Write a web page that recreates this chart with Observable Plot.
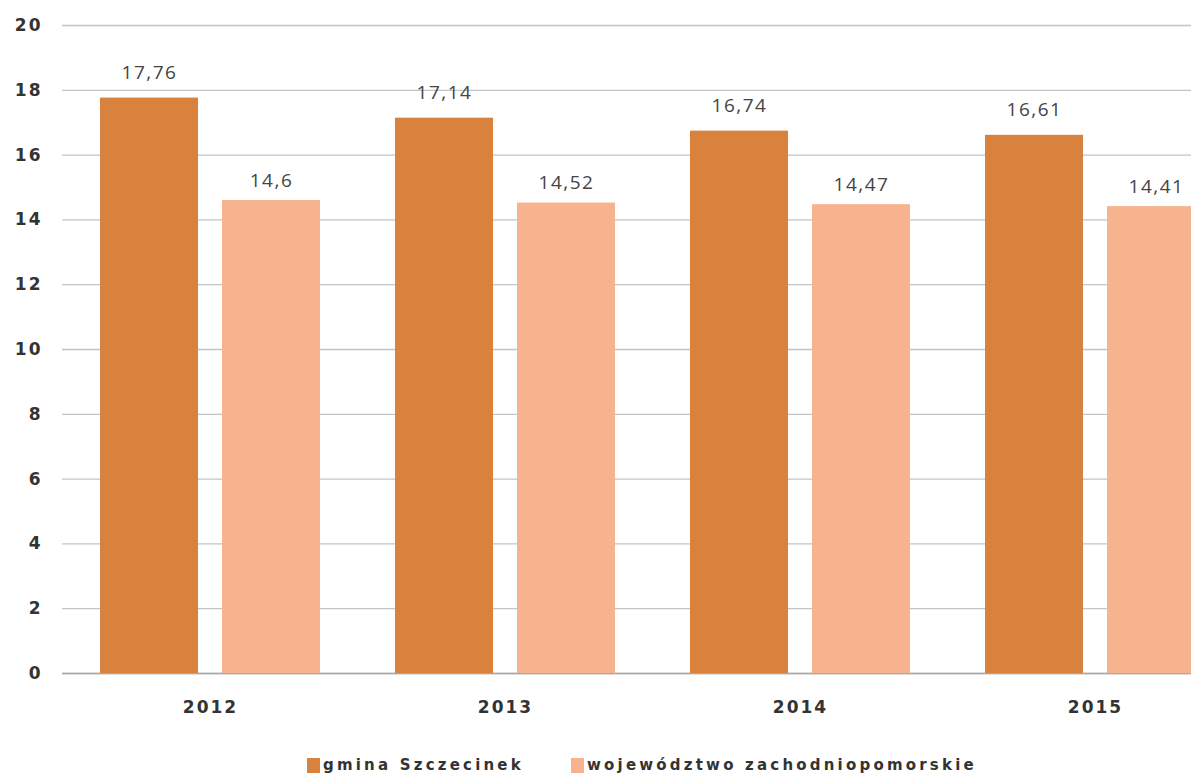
<!DOCTYPE html>
<html>
<head>
<meta charset="utf-8">
<script src="https://cdn.jsdelivr.net/npm/d3@7"></script>
<script src="https://cdn.jsdelivr.net/npm/@observablehq/plot@0.6"></script>
<style>
  html, body { margin: 0; padding: 0; background: #fff; }
  #wrap { position: relative; width: 1191px; height: 777px; overflow: hidden; }
  #chart { position: absolute; left: 0; top: 0; width: 1260px; }
  #chart svg { max-width: none !important; }
  .leg { position: absolute; top: 756px; font-family: "DejaVu Sans", sans-serif; font-weight: bold; font-size: 15px; color: #333; letter-spacing: 3.2px; white-space: nowrap; display: flex; align-items: center; }
  .sw { display: inline-block; width: 13px; height: 15px; margin-right: 3px; }
</style>
</head>
<body>
<div id="wrap">
  <div id="chart"></div>
  <div class="leg" style="left:307px"><span class="sw" style="background:#D9823E"></span>gmina Szczecinek</div>
  <div class="leg" style="left:571px"><span class="sw" style="background:#F7B38E"></span>województwo zachodniopomorskie</div>
</div>
<script>
const years = ["2012", "2013", "2014", "2015"];
const seriesNames = ["gmina Szczecinek", "województwo zachodniopomorskie"];
const gmina = [17.76, 17.14, 16.74, 16.61];
const wojewodztwo = [14.6, 14.52, 14.47, 14.41];
const yTicks = [0, 2, 4, 6, 8, 10, 12, 14, 16, 18, 20];
const colors = ["#D9823E", "#F7B38E"];

const dataG = years.map((y, i) => ({year: y, value: gmina[i]}));
const dataW = years.map((y, i) => ({year: y, value: wojewodztwo[i]}));
const fmt = v => String(v).replace(".", ",");

const chart = Plot.plot({
  width: 1260,
  height: 735,
  marginLeft: 62,
  marginRight: 18,
  marginTop: 25,
  marginBottom: 62,
  style: {fontFamily: "DejaVu Sans, sans-serif", background: "#fff", maxWidth: "none"},
  x: {domain: years, paddingInner: 0.668, paddingOuter: 0.334, label: null},
  y: {domain: [0, 20], label: null},
  marks: [
    Plot.ruleY(yTicks, {stroke: "#c4c4c4", strokeWidth: 1.3}),
    Plot.ruleY([0], {stroke: "#a8a8a8", strokeWidth: 1.5}),
    Plot.barY(dataG, {x: "year", y: "value", fill: colors[0], dx: -61}),
    Plot.barY(dataW, {x: "year", y: "value", fill: colors[1], dx: 61}),
    Plot.text(dataG, {x: "year", y: "value", text: d => fmt(d.value), dx: -61, dy: -25, fontSize: 19, fill: "#444", fontFamily: "Open Sans, sans-serif"}),
    Plot.text(dataW, {x: "year", y: "value", text: d => fmt(d.value), dx: 61, dy: -20, fontSize: 19, fill: "#444", fontFamily: "Open Sans, sans-serif"}),
    Plot.axisY({ticks: yTicks, tickSize: 0, tickPadding: 20, fontSize: 17, fontWeight: "bold", fill: "#333", label: null}),
    Plot.axisX({tickSize: 0, tickPadding: 27, fontSize: 17, fontWeight: "bold", fill: "#333", label: null})
  ]
});
chart.style.maxWidth = "none";
chart.querySelectorAll("g[aria-label='y-axis tick label'] text").forEach(t => t.setAttribute("letter-spacing", "2"));
chart.querySelectorAll("g[aria-label='x-axis tick label'] text").forEach(t => t.setAttribute("letter-spacing", "2"));
chart.querySelectorAll("g[aria-label='text'] text").forEach(t => t.setAttribute("letter-spacing", "1.5"));
document.getElementById("chart").appendChild(chart);
</script>
</body>
</html>
